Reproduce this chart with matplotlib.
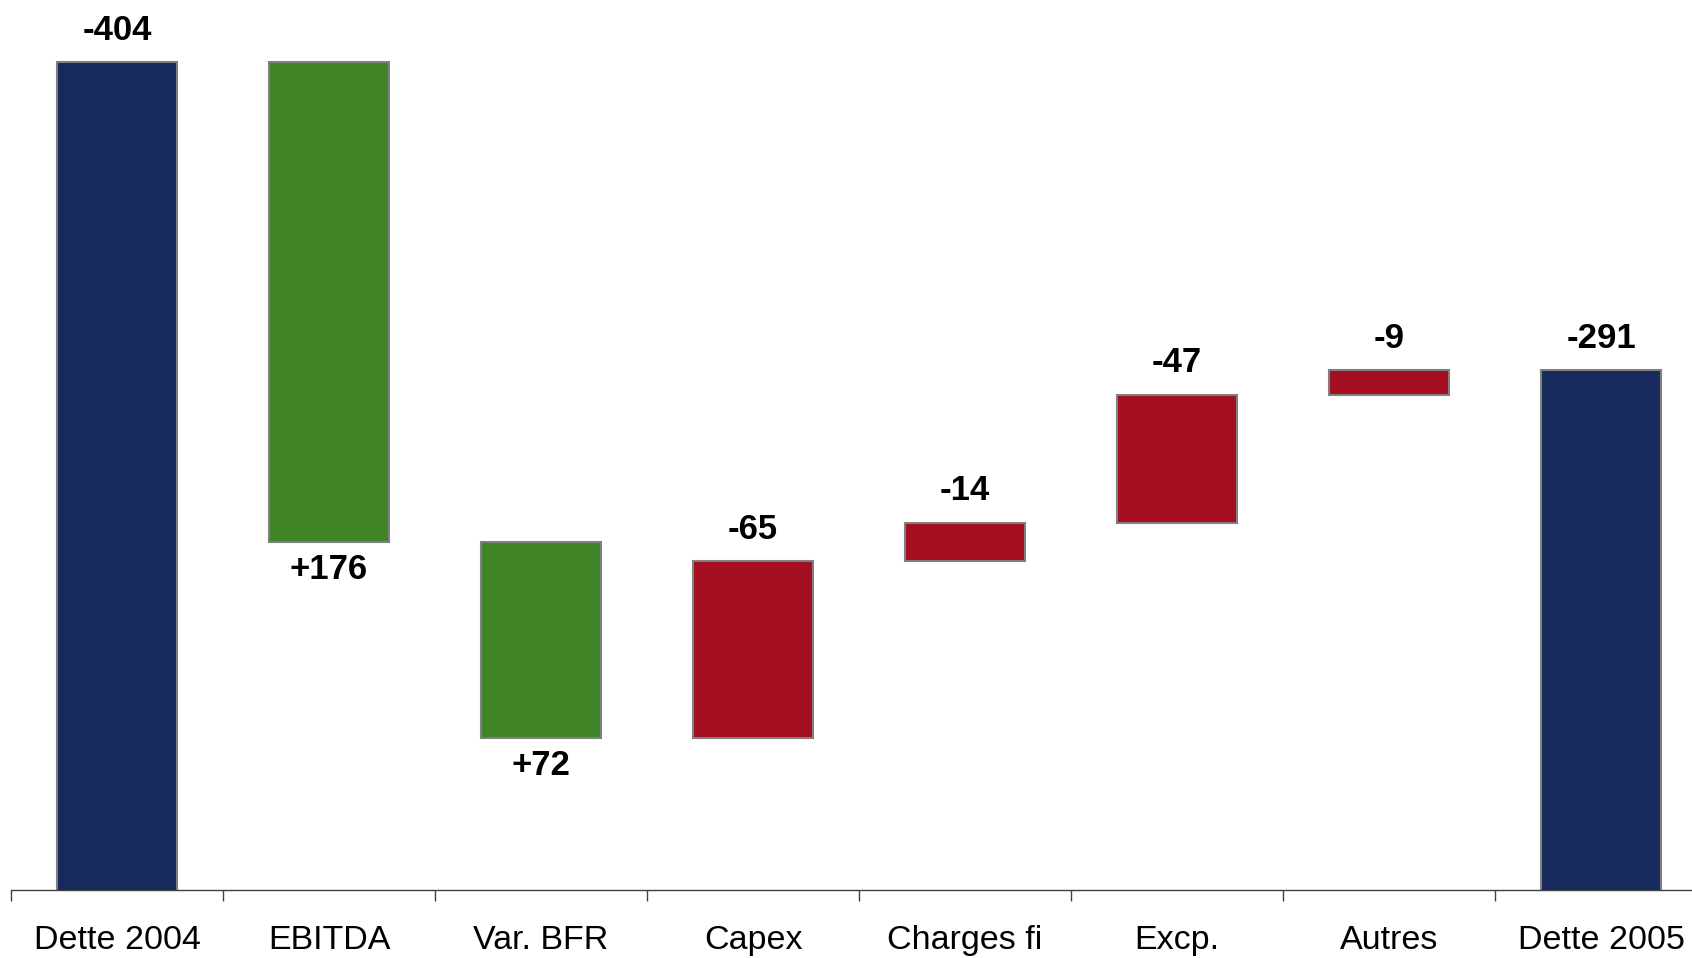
import matplotlib
matplotlib.use("Agg")
import matplotlib.pyplot as plt
from matplotlib.ticker import FixedLocator, NullFormatter

plt.rcParams['font.family'] = ['Liberation Sans', 'DejaVu Sans']

categories = ["Dette 2004", "EBITDA", "Var. BFR", "Capex", "Charges fi", "Excp.", "Autres", "Dette 2005"]
# debt movements (positive = debt increase)
changes = [404, -176, -72, 65, 14, 47, 9, 291]
kinds = ["total", "down", "down", "up", "up", "up", "up", "total"]
labels = ["-404", "+176", "+72", "-65", "-14", "-47", "-9", "-291"]

colors = {"total": "#162B5B", "down": "#3F8427", "up": "#A50E21"}

fig = plt.figure(figsize=(16.92, 9.58), dpi=100)
ax = fig.add_axes([11/1692, 1 - 890/958, 1 - 11/1692, 890/958])

ymin = 100.3
running = 0
for i, (c, k, lab) in enumerate(zip(changes, kinds, labels)):
    if k == "total":
        bottom, top = ymin - 50, c
        running = c
    else:
        start = running
        running = running + c
        bottom, top = min(start, running), max(start, running)
    ax.bar(i, top - bottom, bottom=bottom, width=0.57, color=colors[k],
           edgecolor="#808080", linewidth=1.5, zorder=2)
    if k == "down":
        ax.annotate(lab, (i, bottom), xytext=(0, -20), textcoords="offset points",
                    ha="center", va="center", fontsize=25, fontweight="bold")
    else:
        ax.annotate(lab, (i, top), xytext=(0, 23), textcoords="offset points",
                    ha="center", va="center", fontsize=25, fontweight="bold")

ax.set_xlim(-0.5, -0.5 + 1681/212)
ax.set_ylim(ymin, ymin + 890/2.726)

for s in ["top", "right", "left"]:
    ax.spines[s].set_visible(False)
ax.spines["bottom"].set_color("#404040")
ax.spines["bottom"].set_linewidth(1.0)
ax.spines["bottom"].set_zorder(3)
ax.set_yticks([])

ax.set_xticks(range(len(categories)))
ax.set_xticklabels(categories, fontsize=24.5)
ax.tick_params(axis="x", which="major", length=0, pad=25)
ax.xaxis.set_minor_locator(FixedLocator([i - 0.5 for i in range(len(categories))]))
ax.xaxis.set_minor_formatter(NullFormatter())
ax.tick_params(axis="x", which="minor", length=8, width=1.0, color="#404040", direction="out")

fig.savefig("out.png", dpi=100)
